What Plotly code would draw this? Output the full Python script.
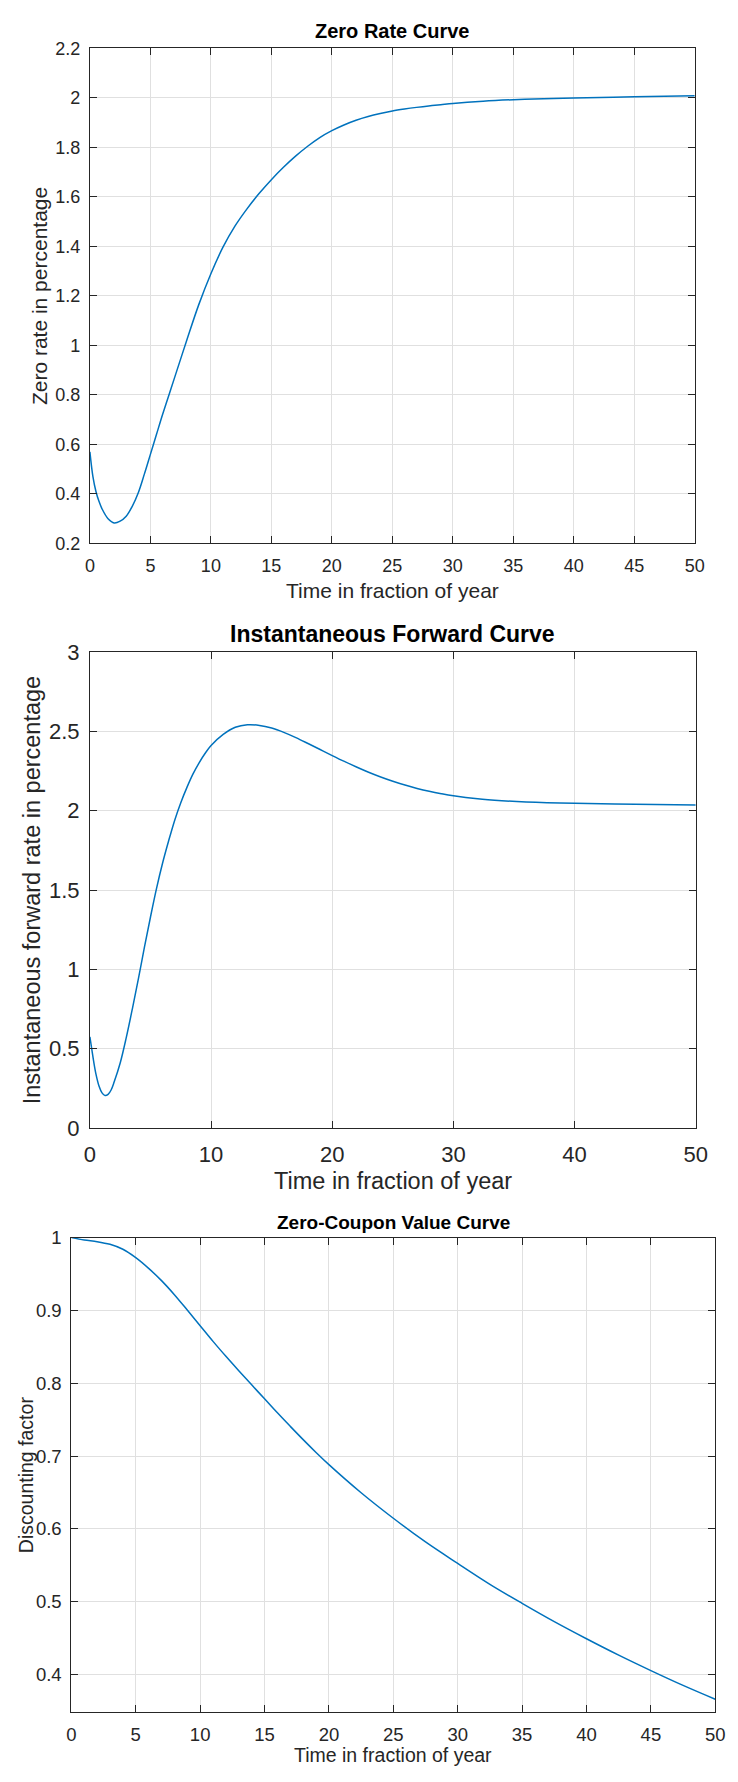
import plotly.graph_objects as go

# ---------------- data ----------------
zero_t = [0, 0.25, 0.5, 0.75, 1, 1.5, 2, 2.5, 3, 3.5, 4, 4.5, 5, 5.5, 6, 6.5, 7, 8, 9, 10, 11,
          12, 13, 14, 15, 16, 17, 18, 19, 20, 21, 22, 23, 24, 25, 26, 27, 28, 29, 30, 32.5,
          35, 37.5, 40, 45, 50]
zero_rate = [0.57, 0.47, 0.41, 0.37, 0.34, 0.30, 0.283, 0.29, 0.31, 0.35, 0.405, 0.48, 0.56,
             0.64, 0.72, 0.795, 0.87, 1.02, 1.165, 1.29, 1.397, 1.483, 1.553, 1.615, 1.67,
             1.72, 1.765, 1.805, 1.84, 1.868, 1.891, 1.91, 1.925, 1.937, 1.947, 1.955, 1.962,
             1.968, 1.973, 1.978, 1.987, 1.993, 1.997, 2.0, 2.005, 2.009]

fwd_t = [0, 0.15, 0.3, 0.5, 0.75, 1.0, 1.25, 1.5, 1.75, 2.0, 2.5, 3.0, 3.5, 4.0, 4.5, 5.0, 5.5,
         6.0, 6.5, 7.0, 7.5, 8.0, 8.5, 9.0, 9.5, 10, 11, 12, 13, 14, 15, 16, 17, 18, 19, 20,
         21, 22, 23, 24, 25, 26, 27, 28, 29, 30, 32, 34, 36, 40, 45, 50]
fwd_rate = [0.575, 0.50, 0.425, 0.34, 0.265, 0.222, 0.205, 0.212, 0.24, 0.29, 0.41, 0.57, 0.75,
            0.94, 1.14, 1.33, 1.51, 1.67, 1.81, 1.94, 2.05, 2.145, 2.23, 2.30, 2.36, 2.41, 2.48,
            2.525, 2.541, 2.537, 2.52, 2.493, 2.46, 2.423, 2.385, 2.347, 2.31, 2.275, 2.242,
            2.212, 2.185, 2.161, 2.14, 2.122, 2.107, 2.094, 2.075, 2.063, 2.055, 2.046, 2.04,
            2.036]

df_t = [0, 1, 2, 3, 4, 5, 6, 7, 8, 9, 10, 11, 12, 13, 14, 15, 16, 17, 18, 19, 20, 22.5, 25,
        27.5, 30, 32.5, 35, 37.5, 40, 42.5, 45, 47.5, 50]
df_val = [1.0, 0.9966, 0.9944, 0.9907, 0.9839, 0.9724, 0.9577, 0.9409, 0.9216, 0.9005, 0.879,
          0.8575, 0.837, 0.8172, 0.7978, 0.7787, 0.7594, 0.7408, 0.7226, 0.705, 0.6883, 0.6497,
          0.6147, 0.5822, 0.5527, 0.5240, 0.4979, 0.4728, 0.4493, 0.4268, 0.4056, 0.3853,
          0.3663]

x_ticks_5 = [0, 5, 10, 15, 20, 25, 30, 35, 40, 45, 50]
x_ticks_10 = [0, 10, 20, 30, 40, 50]
y1_ticks = [0.2, 0.4, 0.6, 0.8, 1, 1.2, 1.4, 1.6, 1.8, 2, 2.2]
y1_labels = ["0.2", "0.4", "0.6", "0.8", "1", "1.2", "1.4", "1.6", "1.8", "2", "2.2"]
y2_ticks = [0, 0.5, 1, 1.5, 2, 2.5, 3]
y2_labels = ["0", "0.5", "1", "1.5", "2", "2.5", "3"]
y3_ticks = [0.4, 0.5, 0.6, 0.7, 0.8, 0.9, 1]
y3_labels = ["0.4", "0.5", "0.6", "0.7", "0.8", "0.9", "1"]

titles = ["Zero Rate Curve", "Instantaneous Forward Curve", "Zero-Coupon Value Curve"]
x_title = "Time in fraction of year"
y_titles = ["Zero rate in percentage", "Instantaneous forward rate in percentage",
            "Discounting factor"]

# ---------------- layout helpers ----------------
W, H = 738, 1782
FONT = "Liberation Sans, Arial, Helvetica, sans-serif"
LINE = "#0072BD"
AX = "#262626"
GRID = "#e0e0e0"


def fx(px):
    return px / W


def fy(py):
    return 1 - py / H


# plot boxes in pixels: left, right, top, bottom
boxes = [(86, 706, 37, 539), (86, 707, 649, 1132), (67, 727, 1243, 1724)]
tick_sizes = [18, 22, 18.5]
label_sizes = [21, 23.5, 19.5]
title_sizes = [20, 23, 19]
title_y = [19, 631, 1228]
xtitle_y = [587, 1186, 1768]
ytitle_x = [35, 27, 20]

fig = go.Figure()
for i, (xs, ys) in enumerate([(zero_t, zero_rate), (fwd_t, fwd_rate), (df_t, df_val)]):
    sfx = "" if i == 0 else str(i + 1)
    fig.add_trace(go.Scatter(x=xs, y=ys, mode="lines", xaxis="x" + sfx, yaxis="y" + sfx,
                             line=dict(color=LINE, width=1.5, shape="spline", smoothing=1.0),
                             showlegend=False, hoverinfo="x+y"))

xticks = [x_ticks_5, x_ticks_10, x_ticks_5]
yticks = [(y1_ticks, y1_labels, [0.2, 2.2]), (y2_ticks, y2_labels, [0, 3]),
          (y3_ticks, y3_labels, [0.349, 1])]

layout = dict(width=W, height=H, margin=dict(l=0, r=0, t=0, b=0),
              paper_bgcolor="white", plot_bgcolor="white", showlegend=False,
              font=dict(family=FONT, color=AX))
annotations = []
for i in range(3):
    l, r, t, b = boxes[i]
    sfx = "" if i == 0 else str(i + 1)
    common = dict(showline=True, linecolor=AX, linewidth=1, mirror="ticks",
                  ticks="inside", ticklen=7, tickcolor=AX, tickwidth=1,
                  showgrid=True, gridcolor=GRID, gridwidth=1, zeroline=False,
                  tickfont=dict(family=FONT, size=tick_sizes[i], color=AX))
    layout["xaxis" + sfx] = dict(domain=[fx(l), fx(r)], anchor="y" + sfx, range=[0, 50],
                                 tickvals=xticks[i], ticktext=[str(v) for v in xticks[i]],
                                 ticklabelstandoff=6, **common)
    yv, yl, yr = yticks[i]
    layout["yaxis" + sfx] = dict(domain=[fy(b), fy(t)], anchor="x" + sfx, range=yr,
                                 tickvals=yv, ticktext=yl, ticklabelstandoff=5, **common)
    cx = (l + r) / 2
    annotations.append(dict(text="<b>" + titles[i] + "</b>", x=fx(cx), y=fy(title_y[i]),
                            xref="paper", yref="paper", xanchor="center", yanchor="middle",
                            showarrow=False,
                            font=dict(family=FONT, size=title_sizes[i], color="black")))
    annotations.append(dict(text=x_title, x=fx(cx), y=fy(xtitle_y[i]),
                            xref="paper", yref="paper", xanchor="center", yanchor="middle",
                            showarrow=False,
                            font=dict(family=FONT, size=label_sizes[i], color=AX)))
    annotations.append(dict(text=y_titles[i], x=fx(ytitle_x[i]), y=fy((t + b) / 2),
                            xref="paper", yref="paper", xanchor="center", yanchor="middle",
                            showarrow=False, textangle=-90,
                            font=dict(family=FONT, size=label_sizes[i], color=AX)))
layout["annotations"] = annotations
fig.update_layout(**layout)

fig.write_html("out.html")
